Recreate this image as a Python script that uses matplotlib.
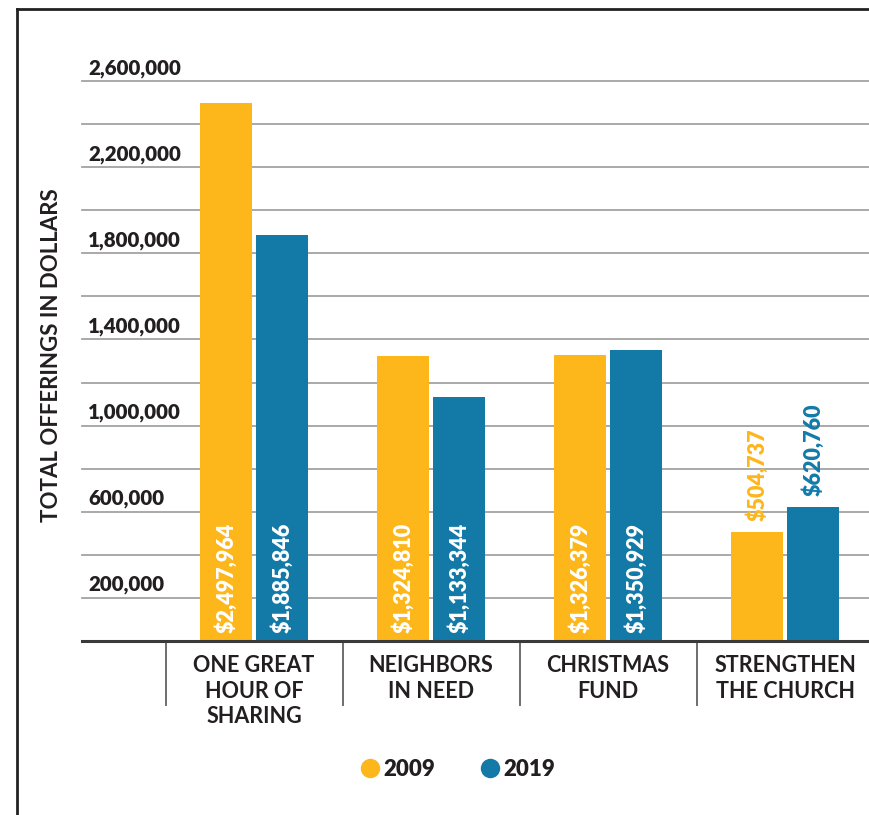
import matplotlib
matplotlib.use("Agg")
import matplotlib.pyplot as plt
import matplotlib.transforms as mtransforms
from matplotlib.lines import Line2D

plt.rcParams['font.family'] = ['Lato', 'DejaVu Sans']

# Data
categories = ["ONE GREAT\nHOUR OF\nSHARING", "NEIGHBORS\nIN NEED", "CHRISTMAS\nFUND", "STRENGTHEN\nTHE CHURCH"]
years = ["2009", "2019"]
values_2009 = [2497964, 1324810, 1326379, 504737]
values_2019 = [1885846, 1133344, 1350929, 620760]
tick_values = [200000, 600000, 1000000, 1400000, 1800000, 2200000, 2600000]
grid_values = [200000, 400000, 600000, 800000, 1000000, 1200000, 1400000,
               1600000, 1800000, 2000000, 2200000, 2400000, 2600000]
y_label = "TOTAL OFFERINGS IN DOLLARS"

YELLOW = "#FDB71B"
BLUE = "#137AA8"
DARK = "#231F20"

fig = plt.figure(figsize=(8.7, 8.15), dpi=100)
ax = fig.add_axes([82 / 870, (815 - 641) / 815, 1 - 82 / 870, (641 - 81) / 815])

n = len(categories)
xs = list(range(n))
bar_w = 0.294
off = 0.158

ax.set_xlim(-0.972, 3.48)
ax.set_ylim(0, 2600000)
for s in ax.spines.values():
    s.set_visible(False)
ax.set_xticks([])
ax.set_yticks([])

# gridlines
for g in grid_values:
    ax.axhline(g, color="#A3A3A3", lw=1.3, zorder=0, clip_on=False)
ax.axhline(0, color="#3A3A3A", lw=2.2, zorder=3, clip_on=False)

# bars with value labels
series = [(values_2009, YELLOW, -off), (values_2019, BLUE, off)]
for vals, col, dx in series:
    bx = [x + dx for x in xs]
    ax.bar(bx, vals, width=bar_w, color=col, zorder=2)
    for x, v in zip(bx, vals):
        txt = "$" + f"{v:,}"
        if v > 800000:
            ax.annotate(txt, (x, 0), xytext=(0, 6), textcoords="offset points",
                        rotation=90, ha="center", va="bottom", color="white",
                        fontsize=15.5, fontweight=800, zorder=4)
        else:
            ax.annotate(txt, (x, v), xytext=(0, 8), textcoords="offset points",
                        rotation=90, ha="center", va="bottom", color=col,
                        fontsize=15.5, fontweight=800, zorder=4)

# y tick labels sit above their gridlines
blend = mtransforms.blended_transform_factory(ax.transAxes, ax.transData)
for t in tick_values:
    ax.annotate(f"{t:,}", (6 / 788, t), xycoords=blend, xytext=(0, 5),
                textcoords="offset points", ha="left", va="baseline",
                fontsize=14.8, fontweight=800, color=DARK)

# category separators and labels
sep_tr = mtransforms.blended_transform_factory(ax.transData, ax.transAxes)
for x in xs:
    ax.plot([x - 0.5, x - 0.5], [0, -0.115], transform=sep_tr,
            color="#6E6E6E", lw=1.4, clip_on=False, zorder=1)
    ax.annotate(categories[x], (x, 0), xytext=(0, -10), textcoords="offset points",
                ha="center", va="top", fontsize=15.5, fontweight=700,
                color=DARK, linespacing=1.28, annotation_clip=False)

# axis title
fig.text(52 / 870, 1 - 355 / 815, y_label, rotation=90, ha="center", va="center",
         fontsize=16, fontweight=700, color=DARK)

# legend
handles = [Line2D([], [], marker="o", ls="none", markersize=14, color=YELLOW, markeredgewidth=0),
           Line2D([], [], marker="o", ls="none", markersize=14, color=BLUE, markeredgewidth=0)]
fig.legend(handles, years, loc="center", bbox_to_anchor=(457 / 870, 1 - 769 / 815),
           ncol=2, frameon=False, handletextpad=0.1, columnspacing=2.0,
           prop={"size": 16, "weight": 800}, labelcolor=DARK, handlelength=1.0)

# outer frame lines
fig.add_artist(Line2D([17 / 870, 17 / 870], [0, 1 - 9 / 815], transform=fig.transFigure,
                      color="#222222", lw=2))
fig.add_artist(Line2D([17 / 870, 1], [1 - 9 / 815, 1 - 9 / 815], transform=fig.transFigure,
                      color="#222222", lw=2))

fig.savefig("out.png", dpi=100)
